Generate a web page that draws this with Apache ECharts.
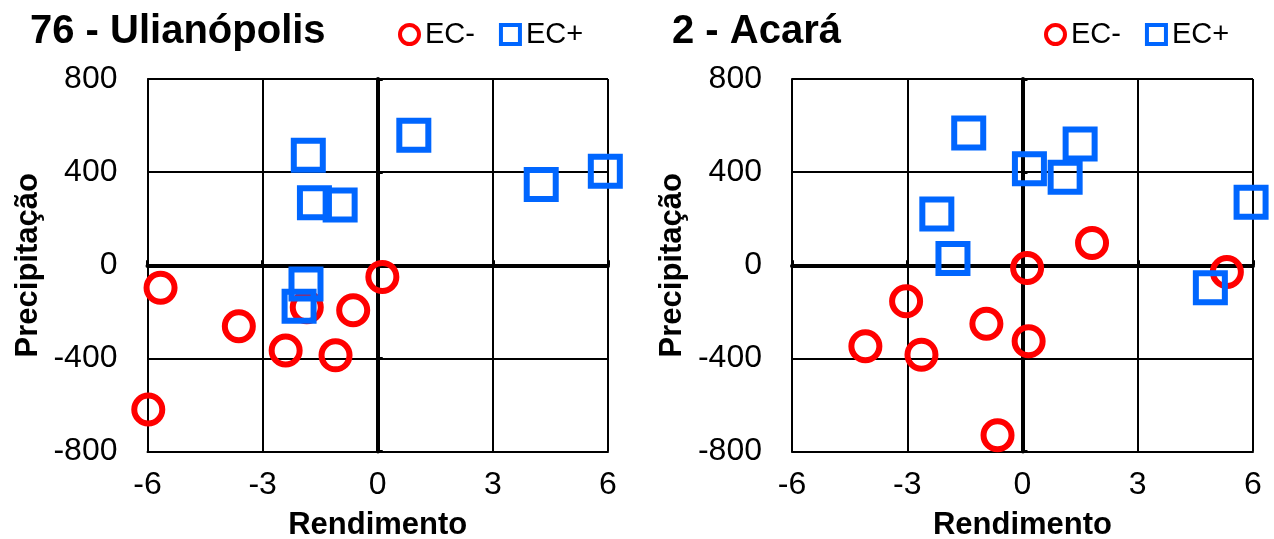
<!DOCTYPE html>
<html>
<head>
<meta charset="utf-8">
<script src="https://cdn.jsdelivr.net/npm/echarts@6/dist/echarts.min.js"></script>
<style>
html,body{margin:0;padding:0;background:#fff;}
#c{width:1274px;height:539px;}
</style>
</head>
<body>
<div id="c"></div>
<script>
// ---- Data ----
var titles = ['76 - Ulianópolis', '2 - Acará'];
var seriesNames = ['EC-', 'EC+'];
var xTicks = [-6, -3, 0, 3, 6];
var yTicks = [-800, -400, 0, 400, 800];

// 76 - Ulianópolis
var ulianNegX = [-5.66, -3.62, -2.40, -1.10, -0.64, 0.12, -1.85, -5.98];
var ulianNegY = [-97, -262, -366, -387, -193, -50, -180, -620];
var ulianPosX = [-1.81, 0.94, 4.26, 5.93, -1.65, -0.98, -1.87, -2.05];
var ulianPosY = [472, 558, 347, 404, 268, 259, -80, -176];

// 2 - Acará
var acaraNegX = [1.81, 0.12, 5.32, -3.03, -0.94, 0.16, -4.09, -2.63, -0.65];
var acaraNegY = [96, -12, -29, -155, -251, -326, -348, -384, -730];
var acaraPosX = [-1.40, 0.18, 1.50, 1.11, 5.95, -2.23, -1.81, 4.89];
var acaraPosY = [568, 415, 521, 378, 271, 220, 29, -97];

function pairs(xs, ys){ return xs.map(function(x,i){ return [x, ys[i]]; }); }

var FONT = "'Liberation Sans', Arial, sans-serif";
var RED = '#FF0000', BLUE = '#0066FF';

var grids = [
  {left: 147.5, top: 79, width: 460.5, height: 372.5, containLabel: false, outerBoundsMode: 'none'},
  {left: 792, top: 79, width: 461, height: 372.5, containLabel: false, outerBoundsMode: 'none'}
];

var xAxes = [], yAxes = [];
grids.forEach(function(g, gi){
  // main x axis (labels at bottom, grid lines)
  xAxes.push({
    type: 'value', gridIndex: gi, min: xTicks[0], max: xTicks[xTicks.length-1], interval: 3,
    axisLine: {onZero: false, lineStyle: {color: '#000', width: 2}},
    axisTick: {show: false},
    axisLabel: {color: '#000', fontSize: 32, fontFamily: FONT, margin: 18},
    splitLine: {show: true, lineStyle: {color: '#000', width: 2}},
    name: 'Rendimento', nameLocation: 'middle', nameGap: 58,
    nameTextStyle: {color: '#000', fontSize: 31, fontWeight: 'bold', fontFamily: FONT}
  });
  // zero-crossing x axis
  xAxes.push({
    type: 'value', gridIndex: gi, min: xTicks[0], max: xTicks[xTicks.length-1], interval: 3,
    axisLine: {onZero: true, onZeroAxisIndex: gi*2, lineStyle: {color: '#000', width: 4}},
    axisTick: {show: true, length: 5, lineStyle: {color: '#000', width: 3}},
    axisLabel: {show: false},
    splitLine: {show: false}
  });
  yAxes.push({
    type: 'value', gridIndex: gi, min: yTicks[0], max: yTicks[yTicks.length-1], interval: 400,
    axisLine: {onZero: false, lineStyle: {color: '#000', width: 2}},
    axisTick: {show: false},
    axisLabel: {color: '#000', fontSize: 32, fontFamily: FONT, margin: 30},
    splitLine: {show: true, lineStyle: {color: '#000', width: 2}},
    name: 'Precipitação', nameLocation: 'middle', nameGap: 104,
    nameTextStyle: {color: '#000', fontSize: 31, fontWeight: 'bold', fontFamily: FONT}
  });
  yAxes.push({
    type: 'value', gridIndex: gi, min: yTicks[0], max: yTicks[yTicks.length-1], interval: 400,
    axisLine: {onZero: true, onZeroAxisIndex: gi*2, lineStyle: {color: '#000', width: 4}},
    axisTick: {show: true, length: 5, lineStyle: {color: '#000', width: 3}},
    axisLabel: {show: false},
    splitLine: {show: false}
  });
});

function circleSeries(gi, data){
  return {
    name: seriesNames[0], type: 'scatter', xAxisIndex: gi*2, yAxisIndex: gi*2,
    symbol: 'circle', symbolSize: 28, clip: false, z: 3,
    itemStyle: {color: 'rgba(0,0,0,0)', borderColor: RED, borderWidth: 6, opacity: 1},
    emphasis: {disabled: true},
    data: data
  };
}
function rectSeries(gi, data){
  return {
    name: seriesNames[1], type: 'scatter', xAxisIndex: gi*2, yAxisIndex: gi*2,
    symbol: 'rect', symbolSize: 29, clip: false, z: 4,
    itemStyle: {color: 'rgba(0,0,0,0)', borderColor: BLUE, borderWidth: 6, opacity: 1},
    emphasis: {disabled: true},
    data: data
  };
}

function legendAt(left){
  return {
    left: left, top: 20, padding: 0, itemGap: 24, itemWidth: 19, itemHeight: 19,
    selectedMode: false,
    itemStyle: {borderWidth: 4},
    textStyle: {color: '#000', fontSize: 29, fontFamily: FONT, padding: [0,0,0,1]},
    data: [{name: seriesNames[0], icon: 'circle'}, {name: seriesNames[1], icon: 'rect'}]
  };
}

var option = {
  animation: false,
  backgroundColor: '#fff',
  title: [
    {text: titles[0], left: 30, top: 12, padding: 0,
     textStyle: {color: '#000', fontSize: 40, fontWeight: 'bold', fontFamily: FONT}},
    {text: titles[1], left: 672, top: 12, padding: 0,
     textStyle: {color: '#000', fontSize: 40, fontWeight: 'bold', fontFamily: FONT}}
  ],
  legend: [legendAt(398), legendAt(1044)],
  grid: grids,
  xAxis: xAxes,
  yAxis: yAxes,
  series: [
    circleSeries(0, pairs(ulianNegX, ulianNegY)),
    rectSeries(0, pairs(ulianPosX, ulianPosY)),
    circleSeries(1, pairs(acaraNegX, acaraNegY)),
    rectSeries(1, pairs(acaraPosX, acaraPosY))
  ]
};

var chart = echarts.init(document.getElementById('c'), null, {renderer: 'canvas'});
chart.setOption(option);
</script>
</body>
</html>
